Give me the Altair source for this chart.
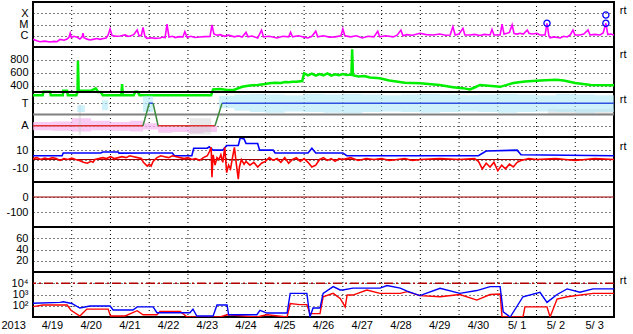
import altair as alt
import pandas as pd

# ---------------- data (time = days since 2013-04-19 00UT) ----------------
DAY_LABELS = ["4/19", "4/20", "4/21", "4/22", "4/23", "4/24", "4/25", "4/26",
              "4/27", "4/28", "4/29", "4/30", "5/ 1", "5/ 2", "5/ 3"]
DAY_MID = [i + 0.5 for i in range(15)]
YEAR = "2013"
DAY_BOUNDS = list(range(1, 15))

# Panel 1: GOES X-ray, log10 flux
xray_t = [0.00, 0.10, 0.18, 0.30, 0.44, 0.55, 0.62, 0.70, 0.80, 0.88, 0.93, 0.96, 0.99, 1.05,
          1.14, 1.21, 1.27, 1.29, 1.32, 1.40, 1.47, 1.55, 1.65, 1.73, 1.82, 1.89, 1.94, 1.99,
          2.04, 2.15, 2.25, 2.38, 2.45, 2.51, 2.60, 2.69, 2.74, 2.80, 2.84, 2.89, 2.94, 3.05,
          3.15, 3.28, 3.35, 3.41, 3.46, 3.51, 3.60, 3.67, 3.78, 3.87, 3.92, 3.98, 4.08, 4.18,
          4.31, 4.44, 4.57, 4.62, 4.67, 4.75, 4.83, 4.95, 5.05, 5.20, 5.30, 5.40, 5.50, 5.55,
          5.65, 5.80, 5.90, 5.95, 6.10, 6.30, 6.45, 6.60, 6.65, 6.70, 6.85, 7.00, 7.10, 7.20,
          7.30, 7.35, 7.50, 7.65, 7.80, 7.95, 8.00, 8.05, 8.20, 8.35, 8.50, 8.65, 8.80, 8.90,
          8.95, 9.10, 9.30, 9.40, 9.50, 9.55, 9.65, 9.80, 9.99, 10.15, 10.33, 10.50, 10.65,
          10.77, 10.84, 10.90, 11.00, 11.10, 11.15, 11.28, 11.40, 11.54, 11.65, 11.80, 11.85,
          11.90, 12.06, 12.11, 12.16, 12.24, 12.30, 12.37, 12.42, 12.50, 12.57, 12.66, 12.76,
          12.81, 12.90, 13.01, 13.09, 13.22, 13.27, 13.32, 13.35, 13.45, 13.61, 13.70, 13.79,
          13.87, 13.94, 13.99, 14.12, 14.22, 14.33, 14.38, 14.50, 14.64, 14.72, 14.79, 14.84,
          14.92, 15.00]
xray_v = [-6.32, -6.45, -6.53, -6.48, -6.56, -6.50, -6.53, -6.32, -6.40, -6.29, -6.14, -5.78,
          -6.16, -6.05, -6.14, -6.29, -6.10, -5.78, -6.20, -6.30, -6.38, -6.32, -6.25, -6.32,
          -6.25, -6.20, -5.93, -5.40, -5.98, -6.05, -6.02, -5.93, -6.05, -6.02, -5.90, -5.49,
          -6.02, -5.95, -5.25, -6.07, -6.23, -6.18, -6.23, -6.20, -6.12, -6.16, -4.96, -6.11,
          -6.05, -6.16, -6.08, -6.11, -5.64, -6.14, -6.05, -6.16, -6.11, -6.08, -6.07, -5.04,
          -5.84, -5.95, -5.90, -6.05, -5.95, -6.10, -6.00, -6.12, -5.70, -6.10, -6.02, -6.20,
          -5.50, -6.10, -6.05, -6.20, -6.05, -6.10, -5.70, -6.10, -6.00, -6.12, -6.20, -6.05,
          -5.60, -6.10, -6.00, -6.12, -6.10, -6.00, -5.40, -6.00, -6.10, -6.00, -6.20, -6.05,
          -6.10, -5.60, -6.10, -6.00, -6.10, -5.95, -5.50, -6.00, -5.90, -5.95, -5.78, -5.90,
          -5.93, -5.85, -5.95, -5.93, -5.20, -5.93, -5.85, -5.34, -5.93, -5.93, -5.88, -5.98,
          -5.88, -5.93, -5.43, -5.93, -5.93, -4.96, -5.84, -5.78, -5.70, -5.04, -5.80, -5.85,
          -5.78, -5.85, -5.49, -5.80, -5.85, -5.78, -5.93, -5.93, -4.89, -6.02, -6.18, -6.10,
          -6.20, -6.05, -6.11, -5.93, -5.49, -5.93, -5.93, -5.85, -5.49, -5.93, -5.88, -5.93,
          -5.76, -4.89, -5.90, -5.85, -5.93]
flare_t = [13.27, 14.79, 14.79]
flare_v = [-4.89, -4.16, -4.89]

# Panel 2: solar wind speed (km/s); values under 300 fall below the panel
wind_t = [0.00, 0.25, 0.27, 0.44, 0.46, 0.77, 0.78, 0.88, 0.90, 1.12, 1.15, 1.16, 1.18, 1.22,
          1.50, 1.62, 1.68, 1.75, 1.80, 2.28, 2.30, 2.32, 2.60, 2.64, 2.70, 2.75, 4.60, 4.65,
          4.83, 5.01, 5.20, 5.40, 5.60, 5.80, 6.00, 6.10, 6.25, 6.40, 6.50, 6.60, 6.70, 6.80,
          6.95, 7.00, 7.10, 7.20, 7.30, 7.40, 7.50, 7.60, 7.70, 7.80, 7.90, 8.00, 8.10, 8.22,
          8.24, 8.26, 8.40, 8.55, 8.70, 8.95, 9.20, 9.60, 10.00, 10.50, 10.84, 11.10, 11.28,
          11.40, 11.54, 12.06, 12.40, 12.70, 13.10, 13.50, 13.70, 14.00, 14.40, 15.00]
wind_v = [250, 250, 305, 305, 250, 250, 320, 320, 250, 250, 300, 787, 320, 320, 320, 357, 300,
          300, 250, 250, 424, 250, 250, 305, 305, 250, 250, 340, 345, 331, 335, 382, 400, 410,
          425, 435, 445, 440, 455, 450, 460, 460, 470, 590, 560, 585, 555, 580, 560, 590, 555,
          575, 560, 580, 565, 570, 964, 560, 540, 550, 525, 513, 480, 445, 435, 410, 375, 360,
          340, 370, 410, 380, 440, 465, 480, 490, 480, 440, 410, 405]

# Panel 3: sector indicator (90 = Away, 270 = Toward) and IMF angle scatter ranges
sect_t = [0.00, 2.84, 2.84, 3.00, 3.00, 3.10, 3.10, 3.23, 3.23, 4.70, 4.70, 4.88, 4.88, 15.00]
sect_v = [90, 90, 90, 270, 270, 270, 270, 90, 90, 90, 90, 270, 270, 270]
sect_seg = [0, 0, 1, 1, 2, 2, 3, 3, 4, 4, 5, 5, 6, 6]
sect_col = ["#e03434", "#e03434", "#3c8a3c", "#3c8a3c", "#3050e0", "#3050e0", "#3c8a3c",
            "#3c8a3c", "#e03434", "#e03434", "#3c8a3c", "#3c8a3c", "#3050e0", "#3050e0"]

pink_t = [0.00, 0.50, 1.00, 1.50, 2.00, 2.50, 2.84, 3.23, 3.60, 4.00, 4.40, 4.75]
pink_lo = [55, 50, 45, 55, 50, 45, 60, 35, 40, 30, 40, 45]
pink_hi = [120, 125, 150, 130, 120, 130, 110, 85, 80, 85, 90, 120]

sky_t = [1.14, 1.34, 1.35, 1.78, 1.94, 1.95, 2.84, 3.10, 3.11, 4.80, 5.20, 5.60, 6.00, 6.50,
         7.00, 7.50, 8.00, 8.50, 9.00, 9.50, 10.00, 10.50, 11.00, 11.50, 12.00, 12.50, 13.00,
         13.50, 14.00, 14.50, 15.00]
sky_lo = [200, 200, None, 215, 215, None, 200, 200, None, 230, 210, 200, 195, 205, 200, 195,
          190, 200, 205, 200, 195, 200, 205, 200, 195, 200, 205, 200, 195, 200, 205]
sky_hi = [255, 255, None, 295, 295, None, 330, 330, None, 330, 340, 345, 340, 335, 345, 340,
          345, 340, 335, 340, 345, 340, 335, 340, 345, 340, 335, 345, 340, 335, 330]

grey_t = [1.18, 1.24, 1.25, 4.05, 4.60, 4.61, 13.30, 15.00]
grey_lo = [15, 15, None, 20, 20, None, 175, 175]
grey_hi = [260, 260, None, 150, 150, None, 225, 225]

# Panel 4: IMF Bt (blue) and Bz (red), nT
bt_t = [0.00, 0.75, 0.78, 1.75, 1.80, 2.20, 2.22, 2.95, 3.60, 3.65, 4.10, 4.15, 4.50, 4.55,
        4.65, 4.90, 5.00, 5.30, 5.35, 5.45, 5.50, 5.80, 5.85, 6.20, 6.25, 7.10, 7.20, 7.30,
        8.00, 8.10, 10.00, 11.50, 11.70, 12.50, 12.60, 15.00]
bt_v = [4, 4, 7, 7, 8, 8, 6.8, 7, 7, 4, 4, 12, 12, 13.5, 10, 10, 15, 15, 23, 22, 17, 17, 10,
        10, 7, 7, 12, 7, 7, 4, 4, 4, 9, 10, 5, 4]
bz_t = [0.0, 0.1, 0.2, 0.3, 0.4, 0.5, 0.6, 0.7, 0.8, 0.9, 1.0, 1.1, 1.2, 1.3, 1.4, 1.5, 1.55,
        1.6, 1.7, 1.8, 1.9, 2.0, 2.1, 2.2, 2.3, 2.4, 2.5, 2.6, 2.7, 2.8, 2.85, 2.95, 3.0, 3.05,
        3.1, 3.2, 3.3, 3.4, 3.5, 3.6, 3.7, 3.8, 3.9, 4.0, 4.1, 4.2, 4.3, 4.4, 4.5, 4.55, 4.6,
        4.62, 4.65, 4.7, 4.75, 4.8, 4.85, 4.9, 4.95, 5.0, 5.05, 5.1, 5.15, 5.2, 5.25, 5.3,
        5.33, 5.38, 5.45, 5.5, 5.6, 5.7, 5.8, 5.9, 6.0, 6.1, 6.2, 6.3, 6.4, 6.5, 6.6, 6.7,
        6.8, 6.9, 7.0, 7.1, 7.2, 7.3, 7.4, 7.5, 7.6, 7.7, 7.8, 7.9, 8.0, 8.2, 8.4, 8.6, 8.8,
        9.0, 9.2, 9.4, 9.6, 9.8, 10.0, 10.5, 11.0, 11.4, 11.5, 11.6, 11.7, 11.8, 11.9, 12.0,
        12.1, 12.2, 12.3, 12.4, 12.5, 12.6, 12.8, 13.0, 13.5, 14.0, 14.5, 15.0]
bz_v = [1, 2, 0, 1.5, 0.5, 2, 1, -1, 1, 0, 1.5, 0, -1, -3, -4, -2, -3, 0, 1, 2, 1, 3, 1, 2, 3,
        2, 4, 3, 2, 1, -3, -7, -5, -7, -2, 2, 4, 3, 2, 4, 3, 2, 1, 2, 0, 1, -1, 2, 4, 8, 13, -19,
        5, -6, 2, 0, 5, -3, 13, -14, -6, -10, 2, 13, -5, -21, -8, 0, -5, -2, -6, -3, -8, -4, -2,
        2, -1, 1, -3, 2, -4, 0, 2, -2, 1, -3, -8, -6, 0, 2, -1, 1, -2, 1, 0, 2, -1, 1, 0, 1, -1,
        0, 1, -1, 0, 1, 0, 1, -2, -10, -4, -8, -3, -12, -6, -10, -5, -8, -3, -1, 1, 0, 1, -1,
        1, 0]

# Panel 7: electron flux, log10
eb_t = [0.00, 0.70, 0.78, 1.00, 1.21, 1.47, 1.99, 2.07, 2.58, 2.69, 3.10, 3.20, 4.05, 4.13,
        4.23, 4.65, 4.75, 5.01, 5.05, 5.78, 5.86, 6.04, 6.56, 6.64, 6.89, 7.07, 7.15, 7.23,
        7.41, 7.49, 7.75, 7.93, 8.00, 8.26, 8.96, 9.14, 9.48, 9.66, 9.99, 10.51, 11.02,
        11.46, 11.80, 12.06, 12.14, 12.32, 12.65, 13.09, 13.27, 13.53, 13.79, 14.12, 14.46,
        15.00]
eb_v = [2.22, 2.30, 2.35, 2.20, 1.80, 1.98, 1.98, 1.62, 1.62, 1.90, 1.90, 1.38, 1.38, 1.70,
        1.09, 1.09, 2.07, 2.07, 1.20, 1.20, 1.60, 1.35, 1.35, 3.10, 3.10, 3.10, 1.00, 1.80,
        1.80, 3.10, 3.70, 3.40, 3.40, 3.57, 3.57, 3.80, 3.57, 3.30, 2.90, 3.55, 3.10, 3.35,
        3.70, 3.70, 1.45, 1.00, 2.80, 3.20, 2.30, 3.00, 3.50, 3.20, 3.50, 3.50]
er_t = [0.00, 0.26, 0.88, 0.98, 1.21, 1.39, 1.94, 2.00, 2.38, 2.69, 2.84, 3.20, 3.28, 3.80,
        3.98, 4.83, 5.01, 5.78, 6.04, 6.56, 6.64, 6.89, 7.07, 7.15, 7.41, 7.49, 7.75, 7.93,
        8.06, 8.11, 8.26, 8.62, 8.96, 9.48, 9.66, 9.99, 10.51, 11.02, 11.46, 11.80, 12.06,
        12.11, 12.65, 12.70, 13.27, 13.35, 13.53, 13.79, 14.46, 15.00]
er_v = [1.92, 2.07, 2.07, 1.60, 1.09, 1.70, 1.70, 1.09, 1.09, 1.56, 1.20, 1.20, 1.50, 1.50,
        1.00, 1.00, 1.20, 1.00, 1.20, 1.00, 2.20, 2.10, 2.10, 1.30, 1.30, 2.80, 3.10, 2.65,
        1.90, 2.95, 2.95, 3.40, 3.10, 3.10, 3.25, 2.90, 2.80, 3.00, 2.50, 3.00, 3.05, 1.00,
        1.00, 1.90, 1.90, 1.00, 2.60, 2.80, 3.10, 3.10]

# ---------------- chart ----------------
W, PH, NP = 581, 45, 7
FONT = "Liberation Sans"
XS = alt.Scale(domain=[0, 15], nice=False, zero=False)
GRID = [1, 3]


def ysc(k, dom):
    # panel k occupies rows [k*PH, (k+1)*PH] of the plot area
    return alt.Scale(domain=dom, range=[(k + 1) * PH, k * PH], nice=False, zero=False)


def xq():
    return alt.X("t:Q", scale=XS, axis=None)


def yaxis(values, expr):
    return alt.Axis(values=values, labelExpr=expr, grid=True, gridDash=GRID, gridColor="black",
                    gridOpacity=1, gridWidth=1, ticks=False, domain=False, title=None,
                    labelFont=FONT, labelFontSize=11, labelColor="black", labelPadding=5,
                    orient="left", labelBaseline="middle")


def text_layer(ts, vs, labels, scale, align="center"):
    return alt.Chart(pd.DataFrame({"t": ts, "v": vs, "s": labels})).mark_text(
        font=FONT, fontSize=11, align=align, baseline="middle", color="black"
    ).encode(x=xq(), y=alt.Y("v:Q", scale=scale), text="s:N")


def rt_label(y, scale):
    return text_layer([15.15], [y], ["rt"], scale, align="left")


def border(top, scale):
    return alt.Chart(pd.DataFrame({"v": [top]})).mark_rule(color="black", strokeWidth=2).encode(
        y=alt.Y("v:Q", scale=scale))


def band(ts, lo, hi, scale, color, opacity, axis=None):
    ych = alt.Y("lo:Q", scale=scale, axis=axis) if axis is not None else alt.Y("lo:Q", scale=scale)
    return alt.Chart(pd.DataFrame({"t": ts, "lo": lo, "hi": hi})).mark_area(
        color=color, opacity=opacity, interpolate="step-after").encode(x=xq(), y=ych, y2="hi:Q")


vgrid = alt.Chart(pd.DataFrame({"t": DAY_BOUNDS})).mark_rule(
    color="black", strokeDash=GRID, strokeWidth=1).encode(x=xq())

# Panel 1 X-ray
s1 = ysc(0, [-7, -3])
p1 = alt.layer(
    alt.Chart(pd.DataFrame({"t": xray_t, "v": xray_v})).mark_line(
        color="#ff00ff", strokeWidth=1.6, clip=True).encode(
        x=xq(), y=alt.Y("v:Q", scale=s1,
                        axis=yaxis([-6, -5, -4], "datum.value == -4 ? 'X' : datum.value == -5 ? 'M' : 'C'"))),
    alt.Chart(pd.DataFrame({"t": flare_t, "v": flare_v})).mark_point(
        shape="circle", filled=False, color="#0000ff", size=38, strokeWidth=1.3, opacity=1).encode(
        x=xq(), y=alt.Y("v:Q", scale=s1)),
    rt_label(-3.8, s1),
)

# Panel 2 solar wind
s2 = ysc(1, [300, 1000])
p2 = alt.layer(
    alt.Chart(pd.DataFrame({"t": wind_t, "v": wind_v})).mark_line(
        color="#00ee00", strokeWidth=2.5, clip=True).encode(
        x=xq(), y=alt.Y("v:Q", scale=s2, axis=yaxis([400, 600, 800], "toString(datum.value)"))),
    border(1000, s2),
    rt_label(876, s2),
)

# Panel 3 sector
s3 = ysc(2, [0, 360])
p3 = alt.layer(
    band(pink_t, pink_lo, pink_hi, s3, "#f6b4ee", 0.7,
         axis=yaxis([90, 270], "datum.value == 270 ? 'T' : 'A'")),
    band(grey_t, grey_lo, grey_hi, s3, "#cccccc", 0.45),
    band(sky_t, sky_lo, sky_hi, s3, "#aee8f8", 0.6),
    alt.Chart(pd.DataFrame({"v": [180]})).mark_rule(color="#808080", strokeWidth=2).encode(
        y=alt.Y("v:Q", scale=s3)),
    alt.Chart(pd.DataFrame({"t": sect_t, "v": sect_v, "seg": sect_seg, "c": sect_col})).mark_line(
        strokeWidth=1.5).encode(
        x=xq(), y=alt.Y("v:Q", scale=s3), detail="seg:N", color=alt.Color("c:N", scale=None)),
    border(360, s3),
    rt_label(296, s3),
)

# Panel 4 IMF
s4 = ysc(3, [-24, 24])
p4 = alt.layer(
    alt.Chart(pd.DataFrame({"v": [0]})).mark_rule(color="#a00000", strokeWidth=1.2).encode(
        y=alt.Y("v:Q", scale=s4, axis=yaxis([-10, 0, 10], "toString(datum.value)"))),
    alt.Chart(pd.DataFrame({"t": bt_t, "v": bt_v})).mark_line(
        color="#0000ff", strokeWidth=1.6, clip=True).encode(
        x=xq(), y=alt.Y("v:Q", scale=s4)),
    alt.Chart(pd.DataFrame({"t": bz_t, "v": bz_v})).mark_line(
        color="#ff0000", strokeWidth=1.6, clip=True).encode(
        x=xq(), y=alt.Y("v:Q", scale=s4)),
    border(24, s4),
    rt_label(13, s4),
)

# Panel 5 Dst
s5 = ysc(4, [-200, 100])
p5 = alt.layer(
    alt.Chart(pd.DataFrame({"v": [0]})).mark_rule(color="#a00000", strokeWidth=1.2).encode(
        y=alt.Y("v:Q", scale=s5, axis=yaxis([-100, 0], "toString(datum.value)"))),
    border(100, s5),
)

# Panel 6
s6 = ysc(5, [0, 80])
p6 = alt.layer(
    alt.Chart(pd.DataFrame({"v": [80]})).mark_rule(color="black", strokeWidth=2).encode(
        y=alt.Y("v:Q", scale=s6, axis=yaxis([20, 40, 60], "toString(datum.value)"))),
)

# Panel 7 electrons
s7 = ysc(6, [1, 5])
p7 = alt.layer(
    alt.Chart(pd.DataFrame({"v": [4]})).mark_rule(color="#b00000", strokeWidth=1.3,
                                                  strokeDash=[9, 3, 2, 3]).encode(
        y=alt.Y("v:Q", scale=s7,
                axis=yaxis([2, 3, 4], "datum.value == 4 ? '10⁴' : datum.value == 3 ? '10³' : '10²'"))),
    alt.Chart(pd.DataFrame({"t": er_t, "v": er_v})).mark_line(
        color="#ff0000", strokeWidth=1.4, clip=True).encode(
        x=xq(), y=alt.Y("v:Q", scale=s7)),
    alt.Chart(pd.DataFrame({"t": eb_t, "v": eb_v})).mark_line(
        color="#0000ff", strokeWidth=1.4, clip=True).encode(
        x=xq(), y=alt.Y("v:Q", scale=s7)),
    text_layer([-0.5] + DAY_MID, [0.2] * 16, [YEAR] + DAY_LABELS, s7),
    border(5, s7),
    rt_label(4.2, s7),
)

chart = alt.layer(vgrid, p1, p2, p3, p4, p5, p6, p7).resolve_scale(y="independent").properties(
    width=W, height=PH * NP,
    autosize=alt.AutoSizeParams(type="none"),
    padding={"left": 33, "top": 2, "right": 19, "bottom": 17},
    background="white",
).configure_view(stroke="black", strokeWidth=2)

chart.save("out.html", embed_options={"renderer": "svg", "actions": False})
